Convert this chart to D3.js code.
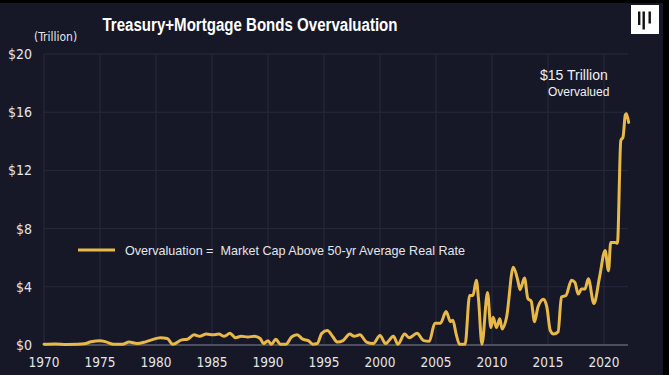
<!DOCTYPE html>
<html lang="en">
  <head>
    <meta charset="utf-8">
    <title>Treasury+Mortgage Bonds Overvaluation</title>
    <script src="https://d3js.org/d3.v7.min.js"></script>
    <style>
      html, body {
        margin: 0;
        padding: 0;
        background: #000;
      }
      svg {
        display: block;
      }
      .tick-label {
        font-family: "Liberation Sans Narrow", "DejaVu Sans Condensed", sans-serif;
        font-size: 13px;
        fill: #e4e5ea;
      }
    </style>
  </head>
  <body>
    <svg id="chart"></svg>

    <script>
      // overvaluation in $ trillion
      var years = [
        1970.0, 1971.0, 1972.0, 1973.0, 1973.6, 1974.2, 1975.0, 1975.6, 1976.2, 1977.0,
        1977.6, 1978.3, 1979.0, 1979.6, 1980.4, 1981.0, 1981.5, 1982.3, 1982.8, 1983.4,
        1983.9, 1984.5, 1985.1, 1985.6, 1986.1, 1986.6, 1987.1, 1987.6, 1988.2, 1988.8,
        1989.3, 1989.6, 1990.0, 1990.3, 1990.7, 1991.1, 1991.6, 1992.1, 1992.6, 1993.1,
        1993.6, 1994.0, 1994.4, 1994.8, 1995.3, 1995.8, 1996.2, 1996.7, 1997.3, 1997.7,
        1998.2, 1998.8, 1999.4, 2000.0, 2000.5, 2001.2, 2001.6, 2002.2, 2002.6, 2003.3,
        2003.9, 2004.4, 2004.9, 2005.4, 2005.9, 2006.3, 2006.5, 2006.8, 2007.1, 2007.6,
        2008.0, 2008.3, 2008.6, 2008.8, 2009.1, 2009.6, 2009.9, 2010.1, 2010.4, 2010.7,
        2010.9, 2011.3, 2011.9, 2012.3, 2012.5, 2012.9, 2013.2, 2013.5, 2013.8, 2014.1,
        2014.6, 2014.9, 2015.2, 2015.5, 2015.9, 2016.2, 2016.6, 2017.1, 2017.4, 2017.7,
        2018.0, 2018.3, 2018.6, 2019.1, 2019.6, 2020.1, 2020.4, 2020.6, 2021.0, 2021.2,
        2021.5, 2021.7, 2021.9, 2022.0, 2022.2
      ];
      var overvaluation = [
        0.05, 0.07, 0.04, 0.05, 0.08, 0.22, 0.30, 0.20, 0.05, 0.05,
        0.20, 0.10, 0.20, 0.35, 0.50, 0.45, 0.05, 0.35, 0.40, 0.70,
        0.60, 0.75, 0.70, 0.75, 0.60, 0.80, 0.50, 0.60, 0.55, 0.60,
        0.45, 0.10, 0.30, 0.05, 0.40, 0.05, 0.05, 0.55, 0.70, 0.40,
        0.30, 0.05, 0.10, 0.80, 1.00, 0.55, 0.20, 0.30, 0.75, 0.60,
        0.70, 0.20, 0.10, 0.65, 0.10, 0.60, 0.05, 0.75, 0.50, 0.80,
        0.30, 0.25, 1.50, 1.50, 2.30, 1.60, 1.70, 0.75, 0.05, 0.05,
        3.40, 3.40, 4.45, 3.10, 0.05, 3.60, 1.20, 1.90, 1.20, 1.80,
        1.10, 1.90, 5.35, 4.45, 3.80, 4.60, 3.20, 3.00, 1.60, 2.60,
        3.15, 2.60, 1.00, 0.75, 0.90, 3.30, 3.40, 4.45, 4.30, 3.50,
        3.85, 3.85, 4.55, 2.85, 4.65, 6.50, 5.10, 7.05, 7.05, 7.00,
        14.05, 14.30, 15.80, 15.90, 15.30
      ];
      var yTicks = [0, 4, 8, 12, 16, 20];
      var xTicks = [1970, 1975, 1980, 1985, 1990, 1995, 2000, 2005, 2010, 2015, 2020];

      var width = 669;
      var height = 375;
      var plotLeft = 44, plotRight = 628, plotTop = 54, plotBottom = 345;

      var svg = d3.select('#chart')
        .attr('width', width)
        .attr('height', height);

      // frame: black edge on top and right, navy panel
      svg.append('rect').attr('width', width).attr('height', height).attr('fill', '#000');
      svg.append('rect')
        .attr('x', 0).attr('y', 3)
        .attr('width', 663).attr('height', height - 3)
        .attr('fill', '#161828');

      var x = d3.scaleLinear().domain([1970, 2022.2]).range([plotLeft, plotLeft + 52.2 * 11.2]);
      var y = d3.scaleLinear().domain([0, 20]).range([plotBottom, plotTop]);

      // grid
      svg.append('g')
        .selectAll('line')
        .data(yTicks.filter(d => d > 0))
        .enter().append('line')
          .attr('x1', plotLeft).attr('x2', plotRight)
          .attr('y1', d => y(d)).attr('y2', d => y(d))
          .attr('stroke', '#272a3b')
          .attr('stroke-width', 1);

      svg.append('g')
        .selectAll('line')
        .data(xTicks)
        .enter().append('line')
          .attr('x1', d => x(d)).attr('x2', d => x(d))
          .attr('y1', plotTop).attr('y2', plotBottom)
          .attr('stroke', '#272a3b')
          .attr('stroke-width', 1);

      svg.append('line')
        .attr('x1', plotLeft).attr('x2', plotRight)
        .attr('y1', y(0)).attr('y2', y(0))
        .attr('stroke', '#5e6170')
        .attr('stroke-width', 1.5);

      // axis labels
      svg.append('g')
        .selectAll('text')
        .data(yTicks)
        .enter().append('text')
          .attr('class', 'tick-label')
          .attr('x', 32)
          .attr('y', d => y(d))
          .attr('dy', '0.35em')
          .attr('text-anchor', 'end')
          .style('font-size', '14px')
          .text(d => '$' + d);

      svg.append('g')
        .selectAll('text')
        .data(xTicks)
        .enter().append('text')
          .attr('class', 'tick-label')
          .attr('x', d => x(d))
          .attr('y', 367)
          .attr('text-anchor', 'middle')
          .style('font-size', '13.5px')
          .text(d => d);

      svg.append('text')
        .attr('class', 'tick-label')
        .attr('x', 34)
        .attr('y', 41)
        .style('font-size', '12px')
        .text('(Trillion)');

      // title
      svg.append('text')
        .attr('x', 250)
        .attr('y', 31)
        .attr('text-anchor', 'middle')
        .attr('textLength', 295)
        .attr('lengthAdjust', 'spacingAndGlyphs')
        .style('font-family', '"Liberation Sans", sans-serif')
        .style('font-weight', 'bold')
        .style('font-size', '18px')
        .attr('fill', '#ffffff')
        .text('Treasury+Mortgage Bonds Overvaluation');

      // logo
      var logo = svg.append('g').attr('transform', 'translate(631,5)');
      logo.append('rect').attr('width', 28).attr('height', 29).attr('fill', '#ffffff');
      [[7, 13.5], [11.5, 18], [17.5, 12]].forEach(function(b) {
        logo.append('rect')
          .attr('x', b[0]).attr('y', 6.5)
          .attr('width', 2.4).attr('height', b[1])
          .attr('fill', '#111');
      });

      // series
      var points = years.map((d, i) => [d, overvaluation[i]]);
      var line = d3.line()
        .x(d => x(d[0]))
        .y(d => y(d[1]))
        .curve(d3.curveMonotoneX);

      svg.append('path')
        .datum(points)
        .attr('d', line)
        .attr('fill', 'none')
        .attr('stroke', '#e8b948')
        .attr('stroke-width', 3)
        .attr('stroke-linejoin', 'round')
        .attr('stroke-linecap', 'round');

      // legend
      svg.append('line')
        .attr('x1', 78).attr('x2', 115)
        .attr('y1', 250).attr('y2', 250)
        .attr('stroke', '#e8b948')
        .attr('stroke-width', 3);

      svg.append('text')
        .attr('x', 125)
        .attr('y', 250)
        .attr('dy', '0.35em')
        .attr('textLength', 340)
        .attr('lengthAdjust', 'spacingAndGlyphs')
        .style('font-family', '"Liberation Sans", sans-serif')
        .style('font-size', '13px')
        .style('white-space', 'pre')
        .attr('fill', '#e4e5ea')
        .text('Overvaluation =  Market Cap Above 50-yr Average Real Rate');

      // annotation
      svg.append('text')
        .attr('x', 540)
        .attr('y', 75)
        .attr('dy', '0.35em')
        .style('font-family', '"Liberation Sans", sans-serif')
        .style('font-size', '14px')
        .attr('fill', '#f0f0f4')
        .text('$15 Trillion');

      svg.append('text')
        .attr('x', 548)
        .attr('y', 92)
        .attr('dy', '0.35em')
        .style('font-family', '"Liberation Sans", sans-serif')
        .style('font-size', '12px')
        .attr('fill', '#f0f0f4')
        .text('Overvalued');
    </script>
  </body>
</html>
